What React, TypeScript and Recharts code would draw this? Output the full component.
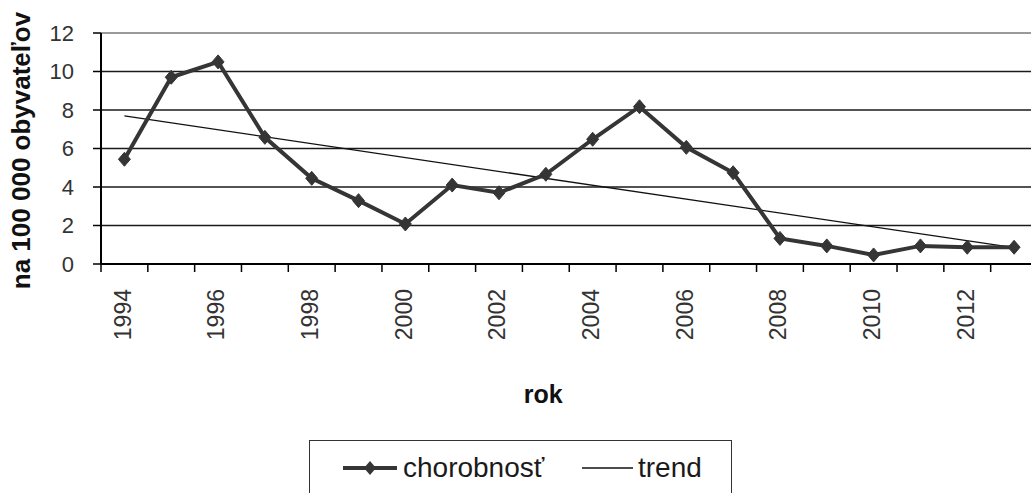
import React from "react";
import {
  LineChart,
  Line,
  XAxis,
  YAxis,
  CartesianGrid,
  Legend,
} from "recharts";

const years = [
  1994, 1995, 1996, 1997, 1998, 1999, 2000, 2001, 2002, 2003, 2004, 2005,
  2006, 2007, 2008, 2009, 2010, 2011, 2012, 2013,
];
const chorobnost = [
  5.44, 9.7, 10.5, 6.58, 4.45, 3.29, 2.08, 4.1, 3.7, 4.66, 6.48, 8.17, 6.06,
  4.74, 1.33, 0.94, 0.47, 0.94, 0.87, 0.87,
];
// linear trend, read at its two ends
const trend: (number | null)[] = [
  7.69, null, null, null, null, null, null, null, null, null, null, null,
  null, null, null, null, null, null, null, 0.85,
];
const yearLabels = [1994, 1996, 1998, 2000, 2002, 2004, 2006, 2008, 2010, 2012];
const yTicks = [0, 2, 4, 6, 8, 10, 12];

const data = years.map((year, i) => ({
  year,
  chorobnost: chorobnost[i],
  trend: trend[i],
}));

const boundaries = [...years.map((y) => y - 0.5), years[years.length - 1] + 0.5];
const domain: [number, number] = [boundaries[0], boundaries[boundaries.length - 1]];

const FONT = '"Liberation Sans", Arial, sans-serif';
const SERIES = "#353535";

const Diamond = (props: any) => {
  const { cx, cy, index } = props;
  if (cx == null || cy == null) return <g key={index} />;
  return (
    <path
      key={index}
      d={`M${cx},${cy - 7} L${cx + 6},${cy} L${cx},${cy + 7} L${cx - 6},${cy} Z`}
      fill={SERIES}
      stroke={SERIES}
      strokeWidth={1}
    />
  );
};

const YearTick = (props: any) => {
  const { x, y, payload } = props;
  return (
    <g transform={`translate(${x - 2},${y + 24}) rotate(-90)`}>
      <text
        textAnchor="end"
        dy="0.36em"
        fontSize={23}
        fontFamily={FONT}
        fill="#333"
      >
        {payload.value}
      </text>
    </g>
  );
};

const GridLine = (props: any) => {
  const { x1, y1, x2, y2 } = props;
  const top = Math.abs(y1 - 33) < 1;
  return (
    <line
      x1={x1}
      y1={y1}
      x2={x2}
      y2={y2}
      stroke={top ? "#9a9a9a" : "#1a1a1a"}
      strokeWidth={top ? 2 : 1.5}
    />
  );
};

const renderLegend = () => (
  <div
    style={{
      boxSizing: "border-box",
      width: 423,
      height: 60,
      border: "1.5px solid #333",
      background: "#fff",
      fontFamily: FONT,
      fontSize: 28,
      color: "#1a1a1a",
    }}
  >
    <div
      style={{
        display: "flex",
        alignItems: "center",
        height: 54,
        paddingLeft: 33,
      }}
    >
      <svg width={54} height={16} style={{ marginRight: 6 }}>
        <line x1={0} y1={8} x2={54} y2={8} stroke={SERIES} strokeWidth={4} />
        <path d="M27,1 L33,8 L27,15 L21,8 Z" fill={SERIES} />
      </svg>
      <span style={{ width: 179 }}>chorobnosť</span>
      <svg width={51} height={16} style={{ marginRight: 5 }}>
        <line x1={0} y1={8} x2={51} y2={8} stroke="#111" strokeWidth={1.3} />
      </svg>
      <span>trend</span>
    </div>
  </div>
);

const App: React.FC = () => {
  return (
    <div
      style={{
        position: "fixed",
        left: 0,
        top: 0,
        width: 1031,
        height: 493,
        overflow: "hidden",
        background: "#fff",
      }}
    >
      <LineChart
        width={1040}
        height={493}
        data={data}
        margin={{ top: 33, right: 2.5, left: 0, bottom: 68 }}
      >
        <CartesianGrid
          vertical={false}
          horizontal={(p: any) => <GridLine key={p.key} {...p} />}
        />
        <XAxis
          dataKey="year"
          type="number"
          domain={domain}
          ticks={boundaries}
          tickFormatter={() => ""}
          height={1}
          tickSize={8}
          axisLine={{ stroke: "#000", strokeWidth: 2 }}
          tickLine={{ stroke: "#000", strokeWidth: 1.5 }}
          allowDataOverflow
        />
        <XAxis
          xAxisId="labels"
          dataKey="year"
          type="number"
          domain={domain}
          ticks={yearLabels}
          interval={0}
          height={160}
          tickSize={0}
          tickMargin={0}
          axisLine={false}
          tickLine={false}
          tick={<YearTick />}
          allowDataOverflow
          label={{
            content: (p: any) => {
              const vb = p.viewBox;
              return (
                <text
                  x={vb.x + vb.width / 2 - 26}
                  y={vb.y + 138}
                  textAnchor="middle"
                  fontSize={25}
                  fontWeight="bold"
                  fontFamily={FONT}
                  fill="#111"
                >
                  rok
                </text>
              );
            },
          }}
        />
        <YAxis
          domain={[0, 12]}
          ticks={yTicks}
          width={101}
          tickSize={8}
          tickMargin={19}
          axisLine={{ stroke: "#000", strokeWidth: 2 }}
          tickLine={{ stroke: "#000", strokeWidth: 1.5 }}
          tick={{ fontSize: 22, fontFamily: FONT, fill: "#333" }}
          label={{
            content: (p: any) => {
              const vb = p.viewBox;
              const cy = vb.y + vb.height / 2 + 2;
              return (
                <text
                  x={21}
                  y={cy}
                  transform={`rotate(-90, 21, ${cy})`}
                  textAnchor="middle"
                  dominantBaseline="central"
                  fontSize={26}
                  fontWeight="bold"
                  fontFamily={FONT}
                  fill="#111"
                >
                  na 100 000 obyvateľov
                </text>
              );
            },
          }}
        />
        <Legend
          verticalAlign="middle"
          align="center"
          layout="horizontal"
          wrapperStyle={{ top: 440, left: 309, width: 423, height: 60 }}
          content={renderLegend}
        />
        <Line
          type="linear"
          dataKey="trend"
          name="trend"
          stroke="#111"
          strokeWidth={1.3}
          dot={false}
          activeDot={false}
          connectNulls
          isAnimationActive={false}
        />
        <Line
          type="linear"
          dataKey="chorobnost"
          name="chorobnosť"
          stroke={SERIES}
          strokeWidth={4}
          dot={<Diamond />}
          activeDot={false}
          isAnimationActive={false}
        />
      </LineChart>
    </div>
  );
};

export default App;
